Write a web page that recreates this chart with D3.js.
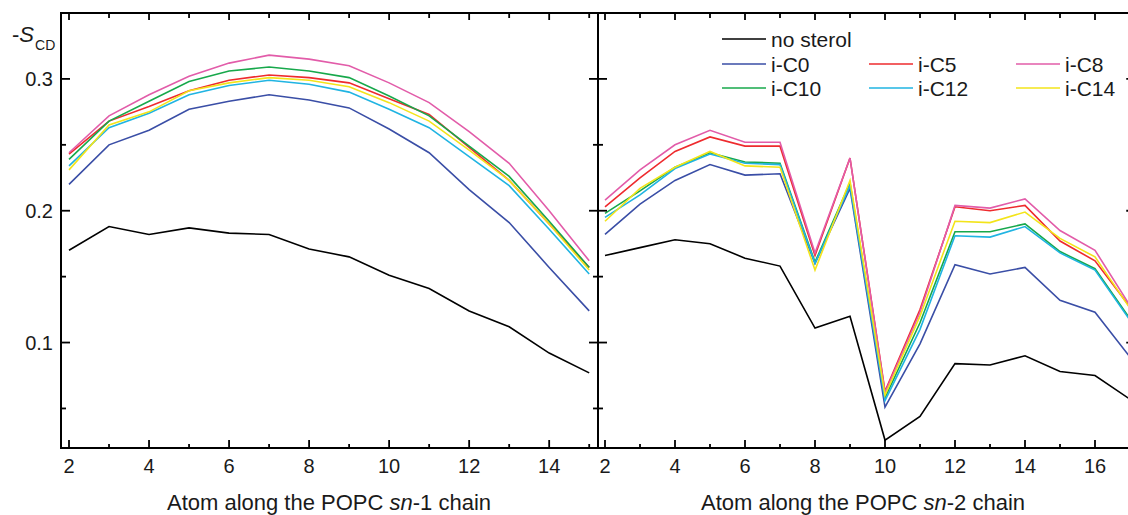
<!DOCTYPE html>
<html>
<head>
<meta charset="utf-8">
<script src="https://cdn.jsdelivr.net/npm/d3@7"></script>
<style>
  html, body { margin: 0; padding: 0; background: #fff; }
  svg { display: block; font-family: "Liberation Sans", Arial, sans-serif; fill: #1a1a1a; }
</style>
</head>
<body>
<svg id="chart" width="1128" height="515"></svg>
<script>
"use strict";

// atoms on each chain
const sn1Atoms = [2, 3, 4, 5, 6, 7, 8, 9, 10, 11, 12, 13, 14, 15];
const sn2Atoms = [2, 3, 4, 5, 6, 7, 8, 9, 10, 11, 12, 13, 14, 15, 16, 17];

// -S_CD, sn-1 chain
const sn1NoSterol = [0.170, 0.188, 0.182, 0.187, 0.183, 0.182, 0.171, 0.165, 0.151, 0.141, 0.124, 0.112, 0.092, 0.077];
const sn1C0  = [0.220, 0.250, 0.261, 0.277, 0.283, 0.288, 0.284, 0.278, 0.262, 0.244, 0.216, 0.191, 0.157, 0.124];
const sn1C5  = [0.243, 0.268, 0.279, 0.291, 0.299, 0.303, 0.301, 0.297, 0.285, 0.273, 0.248, 0.223, 0.190, 0.157];
const sn1C8  = [0.244, 0.272, 0.288, 0.302, 0.312, 0.318, 0.315, 0.310, 0.297, 0.282, 0.260, 0.236, 0.200, 0.162];
const sn1C10 = [0.239, 0.268, 0.283, 0.298, 0.306, 0.309, 0.306, 0.301, 0.287, 0.272, 0.249, 0.226, 0.192, 0.157];
const sn1C12 = [0.234, 0.263, 0.274, 0.288, 0.295, 0.299, 0.296, 0.290, 0.277, 0.263, 0.241, 0.219, 0.186, 0.152];
const sn1C14 = [0.231, 0.265, 0.275, 0.291, 0.297, 0.301, 0.299, 0.294, 0.282, 0.268, 0.246, 0.223, 0.190, 0.155];

// -S_CD, sn-2 chain
const sn2NoSterol = [0.166, 0.172, 0.178, 0.175, 0.164, 0.158, 0.111, 0.120, 0.026, 0.044, 0.084, 0.083, 0.090, 0.078, 0.075, 0.057];
const sn2C0  = [0.182, 0.205, 0.223, 0.235, 0.227, 0.228, 0.160, 0.217, 0.051, 0.099, 0.159, 0.152, 0.157, 0.132, 0.123, 0.089];
const sn2C5  = [0.203, 0.225, 0.245, 0.256, 0.249, 0.249, 0.166, 0.240, 0.063, 0.125, 0.203, 0.200, 0.204, 0.177, 0.162, 0.127];
const sn2C8  = [0.208, 0.231, 0.250, 0.261, 0.252, 0.252, 0.168, 0.240, 0.062, 0.123, 0.204, 0.202, 0.209, 0.185, 0.170, 0.128];
const sn2C10 = [0.198, 0.215, 0.233, 0.244, 0.237, 0.236, 0.161, 0.221, 0.058, 0.115, 0.184, 0.184, 0.190, 0.169, 0.156, 0.118];
const sn2C12 = [0.195, 0.212, 0.232, 0.243, 0.236, 0.235, 0.160, 0.219, 0.056, 0.110, 0.181, 0.180, 0.188, 0.168, 0.155, 0.117];
const sn2C14 = [0.192, 0.217, 0.233, 0.245, 0.234, 0.233, 0.155, 0.223, 0.060, 0.120, 0.192, 0.191, 0.199, 0.179, 0.165, 0.126];

const seriesNames  = ["no sterol", "i-C0", "i-C5", "i-C8", "i-C10", "i-C12", "i-C14"];
const seriesColors = ["#000000", "#3a4ea6", "#ee2b2e", "#e25ca9", "#17a84b", "#20b4e2", "#f3e41a"];
const sn1Values = [sn1NoSterol, sn1C0, sn1C5, sn1C8, sn1C10, sn1C12, sn1C14];
const sn2Values = [sn2NoSterol, sn2C0, sn2C5, sn2C8, sn2C10, sn2C12, sn2C14];

const yMajor = [0.1, 0.2, 0.3];
const yMinor = [0.05, 0.15, 0.25];

// ---------------------------------------------------------------------------

const svg = d3.select("#chart");
const plotTop = 13, plotBottom = 448;

const y = d3.scaleLinear().domain([0.02, 0.35]).range([plotBottom, plotTop]);

const panels = [
  { atoms: sn1Atoms, values: sn1Values, x: d3.scaleLinear().domain([1.8, 15.22]).range([61, 598]),
    title: ["Atom along the POPC ", "sn", "-1 chain"] },
  { atoms: sn2Atoms, values: sn2Values, x: d3.scaleLinear().domain([1.8, 17.15]).range([598, 1135.25]),
    title: ["Atom along the POPC ", "sn", "-2 chain"] }
];

const defs = svg.append("defs");

panels.forEach((pn, pi) => {
  const [x0, x1] = pn.x.range();
  const g = svg.append("g");

  defs.append("clipPath").attr("id", "clip" + pi)
      .append("rect").attr("x", x0).attr("y", plotTop).attr("width", x1 - x0).attr("height", plotBottom - plotTop);

  // lines
  const line = d3.line().x(d => pn.x(d[0])).y(d => y(d[1]));
  pn.values.forEach((vals, si) => {
    g.append("path")
     .datum(pn.atoms.map((a, i) => [a, vals[i]]))
     .attr("clip-path", `url(#clip${pi})`)
     .attr("fill", "none")
     .attr("stroke", seriesColors[si])
     .attr("stroke-width", 1.6)
     .attr("d", line);
  });

  // x ticks: every integer, bottom and top, pointing inward
  const xt = d3.range(2, Math.floor(pn.x.domain()[1]) + 1);
  xt.forEach(t => {
    const px = pn.x(t);
    g.append("line").attr("x1", px).attr("x2", px).attr("y1", plotBottom).attr("y2", plotBottom - (t % 2 === 0 ? 8 : 4))
     .attr("stroke", "#000").attr("stroke-width", 1.8);
    g.append("line").attr("x1", px).attr("x2", px).attr("y1", plotTop).attr("y2", plotTop + (t % 2 === 0 ? 7 : 5))
     .attr("stroke", "#000").attr("stroke-width", 1.8);
    if (t % 2 === 0) {
      g.append("text").attr("x", px).attr("y", plotBottom + 25)
       .attr("text-anchor", "middle").attr("font-size", 20).text(t);
    }
  });

  // y ticks on both sides of the panel, inward
  const yTick = (v, len) => {
    g.append("line").attr("x1", x0).attr("x2", x0 + len).attr("y1", y(v)).attr("y2", y(v))
     .attr("stroke", "#000").attr("stroke-width", 1.8);
    g.append("line").attr("x1", x1).attr("x2", x1 - len).attr("y1", y(v)).attr("y2", y(v))
     .attr("stroke", "#000").attr("stroke-width", 1.8);
  };
  yMajor.forEach(v => yTick(v, 9));
  yMinor.forEach(v => yTick(v, 5));

  // frame
  g.append("rect").attr("x", x0).attr("y", plotTop).attr("width", x1 - x0).attr("height", plotBottom - plotTop)
   .attr("fill", "none").attr("stroke", "#000").attr("stroke-width", 2);

  // x title
  const tt = g.append("text").attr("x", pi === 0 ? 329 : 863).attr("y", 510)
              .attr("text-anchor", "middle").attr("font-size", 22);
  tt.append("tspan").text(pn.title[0]);
  tt.append("tspan").attr("font-style", "italic").text(pn.title[1]);
  tt.append("tspan").text(pn.title[2]);
});

// y tick labels
yMajor.forEach(v => {
  svg.append("text").attr("x", 53).attr("y", y(v)).attr("dy", "0.36em")
     .attr("text-anchor", "end").attr("font-size", 20).text(v.toFixed(1));
});

// y label -S_CD
const yl = svg.append("text").attr("x", 12).attr("y", 42).attr("font-size", 22);
yl.append("tspan").text("-");
yl.append("tspan").attr("font-style", "italic").text("S");
yl.append("tspan").attr("font-size", 14).attr("dy", 8).attr("dx", 1).text("CD");

// legend
const legendCols = [722, 869, 1016];
const legendRows = [39, 64, 88];
seriesNames.forEach((name, i) => {
  const row = i === 0 ? 0 : Math.floor((i - 1) / 3) + 1;
  const col = i === 0 ? 0 : (i - 1) % 3;
  const lx = legendCols[col], ly = legendRows[row];
  svg.append("line").attr("x1", lx).attr("x2", lx + 44).attr("y1", ly).attr("y2", ly)
     .attr("stroke", seriesColors[i]).attr("stroke-width", 1.6);
  svg.append("text").attr("x", lx + 49).attr("y", ly).attr("dy", "0.36em")
     .attr("font-size", 21).text(name);
});
</script>
</body>
</html>
